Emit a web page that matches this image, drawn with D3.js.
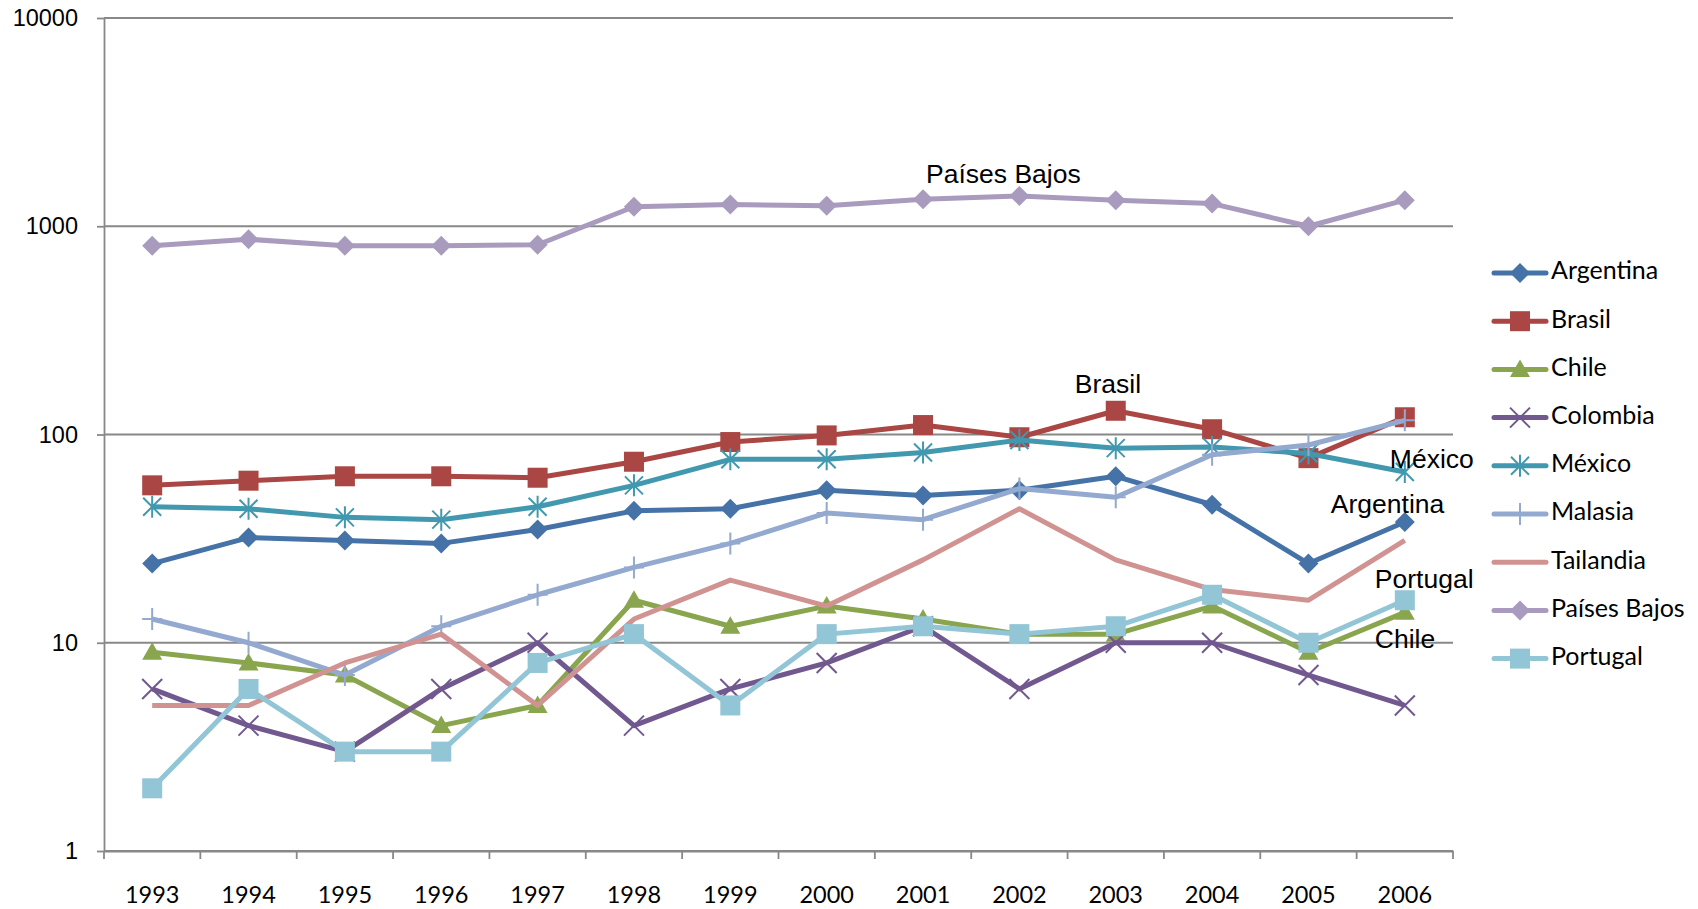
<!DOCTYPE html>
<html>
<head>
<meta charset="utf-8">
<script src="https://cdn.jsdelivr.net/npm/d3@7"></script>
<style>
  body { margin: 0; background: #fff; }
  svg { display: block; }
</style>
</head>
<body>
<div id="chart"></div>
<script>
const width = 1698;
const height = 909;

const years = ["1993","1994","1995","1996","1997","1998","1999","2000","2001","2002","2003","2004","2005","2006"];
const yTicks = [1, 10, 100, 1000, 10000];

const countries = ["Argentina","Brasil","Chile","Colombia","México","Malasia","Tailandia","Países Bajos","Portugal"];

const argentina  = [24, 32, 31, 30, 35, 43, 44, 54, 51, 54, 63, 46, 24, 38];
const brasil     = [57, 60, 63, 63, 62, 74, 92, 99, 111, 97, 130, 106, 77, 121];
const chile      = [9, 8, 7, 4, 5, 16, 12, 15, 13, 11, 11, 15, 9, 14];
const colombia   = [6, 4, 3, 6, 10, 4, 6, 8, 12, 6, 10, 10, 7, 5];
const mexico     = [45, 44, 40, 39, 45, 57, 76, 76, 82, 94, 86, 87, 81, 66];
const malasia    = [13, 10, 7, 12, 17, 23, 30, 42, 39, 55, 50, 80, 89, 117];
const tailandia  = [5, 5, 8, 11, 5, 13, 20, 15, 25, 44, 25, 18, 16, 31];
const paisesBajos = [806, 866, 806, 806, 815, 1241, 1271, 1256, 1349, 1399, 1334, 1285, 1000, 1334];
const portugal   = [2, 6, 3, 3, 8, 11, 5, 11, 12, 11, 12, 17, 10, 16];

const seriesValues = [argentina, brasil, chile, colombia, mexico, malasia, tailandia, paisesBajos, portugal];
const colors = ["#4572A7","#AA4643","#89A54E","#71588F","#4198AF","#93A9CF","#D19392","#A99BBD","#92C5D6"];
const markers = ["diamond","square","triangle","x","star","plus","none","diamond","square"];

// labels placed beside the lines
const annotations = [
  { text: "Países Bajos", year: "2001", value: 1349, dx: 3,   dy: -23 },
  { text: "Brasil",       year: "2003", value: 130,  dx: -41, dy: -25 },
  { text: "México",       year: "2006", value: 66,   dx: -15, dy: -11 },
  { text: "Argentina",    year: "2006", value: 38,   dx: -74, dy: -16 },
  { text: "Portugal",     year: "2006", value: 16,   dx: -30, dy: -19 },
  { text: "Chile",        year: "2006", value: 14,   dx: -30, dy: 29 }
];

const margin = { left: 104, right: 245, top: 18, bottom: 58 };

const svg = d3.select("#chart").append("svg")
    .attr("width", width)
    .attr("height", height);

const x = d3.scaleBand().domain(years).range([margin.left, width - margin.right]);
const y = d3.scaleLog().domain([1, 10000]).range([height - margin.bottom, margin.top]);
const cx = d => x(d) + x.bandwidth() / 2;

const gridColor = "#888888";

// gridlines
svg.append("g")
  .selectAll("line")
  .data(yTicks)
  .join("line")
    .attr("x1", margin.left)
    .attr("x2", width - margin.right)
    .attr("y1", d => y(d))
    .attr("y2", d => y(d))
    .attr("stroke", gridColor)
    .attr("stroke-width", 1.8);

// y axis
const yAxis = svg.append("g")
    .attr("transform", `translate(${margin.left},0)`)
    .call(d3.axisLeft(y).tickValues(yTicks).tickFormat(d3.format("d")).tickSizeInner(7).tickSizeOuter(0).tickPadding(19));
yAxis.select(".domain").attr("stroke", gridColor).attr("stroke-width", 1.8);
yAxis.selectAll(".tick line").attr("stroke", gridColor).attr("stroke-width", 1.8);
yAxis.selectAll("text")
    .attr("font-family", "'Liberation Sans', Arial, sans-serif")
    .attr("font-size", 23.5)
    .attr("fill", "#000");

// x axis
const xAxis = svg.append("g")
    .attr("transform", `translate(0,${height - margin.bottom})`)
    .call(d3.axisBottom(x).tickSize(0).tickPadding(35));
xAxis.select(".domain").attr("stroke", gridColor).attr("stroke-width", 1.8);
xAxis.selectAll("text")
    .attr("font-family", "Lato, 'Open Sans', sans-serif")
    .attr("font-size", 23.5)
    .attr("fill", "#000");
xAxis.append("g")
  .selectAll("line")
  .data(years.map(d => x(d)).concat([x(years[years.length - 1]) + x.bandwidth()]))
  .join("line")
    .attr("x1", d => d)
    .attr("x2", d => d)
    .attr("y1", 0)
    .attr("y2", 8)
    .attr("stroke", gridColor)
    .attr("stroke-width", 1.8);

function drawMarker(g, type, color, size) {
  const s = size / 2;
  if (type === "diamond") {
    g.append("path").attr("d", `M0,${-s}L${s},0L0,${s}L${-s},0Z`).attr("fill", color);
  } else if (type === "square") {
    g.append("rect").attr("x", -s).attr("y", -s).attr("width", size).attr("height", size).attr("fill", color);
  } else if (type === "triangle") {
    g.append("path").attr("d", `M0,${-s}L${s},${s * 0.75}L${-s},${s * 0.75}Z`).attr("fill", color);
  } else if (type === "x") {
    g.append("path").attr("d", `M${-s},${-s}L${s},${s}M${-s},${s}L${s},${-s}`)
      .attr("stroke", color).attr("stroke-width", 2).attr("fill", "none");
  } else if (type === "star") {
    g.append("path").attr("d", `M${-s * 0.9},${-s * 0.9}L${s * 0.9},${s * 0.9}M${-s * 0.9},${s * 0.9}L${s * 0.9},${-s * 0.9}M0,${-s * 1.1}L0,${s * 1.1}`)
      .attr("stroke", color).attr("stroke-width", 2).attr("fill", "none");
  } else if (type === "plus") {
    g.append("path").attr("d", `M0,${-s * 1.1}L0,${s * 1.1}M${-s},0L${s},0`)
      .attr("stroke", color).attr("stroke-width", 2).attr("fill", "none");
  }
}

const markerSize = { diamond: 20, square: 20, triangle: 20, x: 20, star: 20, plus: 20, none: 0 };

const line = d3.line()
    .x((_, i) => cx(years[i]))
    .y(d => y(d));

countries.forEach((name, k) => {
  const g = svg.append("g");
  g.append("path")
    .datum(seriesValues[k])
    .attr("fill", "none")
    .attr("stroke", colors[k])
    .attr("stroke-width", 5)
    .attr("stroke-linejoin", "round")
    .attr("stroke-linecap", "butt")
    .attr("d", line);
  seriesValues[k].forEach((v, i) => {
    const m = g.append("g").attr("transform", `translate(${cx(years[i])},${y(v)})`);
    drawMarker(m, markers[k], colors[k], markerSize[markers[k]]);
  });
});

// annotations
svg.append("g")
  .selectAll("text")
  .data(annotations)
  .join("text")
    .attr("x", d => cx(d.year) + d.dx)
    .attr("y", d => y(d.value) + d.dy)
    .attr("dominant-baseline", "middle")
    .attr("font-family", "'Liberation Sans', Arial, sans-serif")
    .attr("font-size", 26.5)
    .attr("fill", "#000")
    .text(d => d.text);

// legend
const legend = svg.append("g").attr("transform", "translate(1494,273)");
countries.forEach((name, k) => {
  const row = legend.append("g").attr("transform", `translate(0,${k * 48.2})`);
  row.append("line")
    .attr("x1", 0).attr("x2", 52)
    .attr("stroke", colors[k]).attr("stroke-width", 5).attr("stroke-linecap", "round");
  const m = row.append("g").attr("transform", "translate(26,0)");
  drawMarker(m, markers[k], colors[k], markerSize[markers[k]]);
  row.append("text")
    .attr("x", 57)
    .attr("dominant-baseline", "middle")
    .attr("font-family", "Lato, 'Open Sans', sans-serif")
    .attr("font-size", 25)
    .attr("fill", "#000")
    .text(name);
});
</script>
</body>
</html>
